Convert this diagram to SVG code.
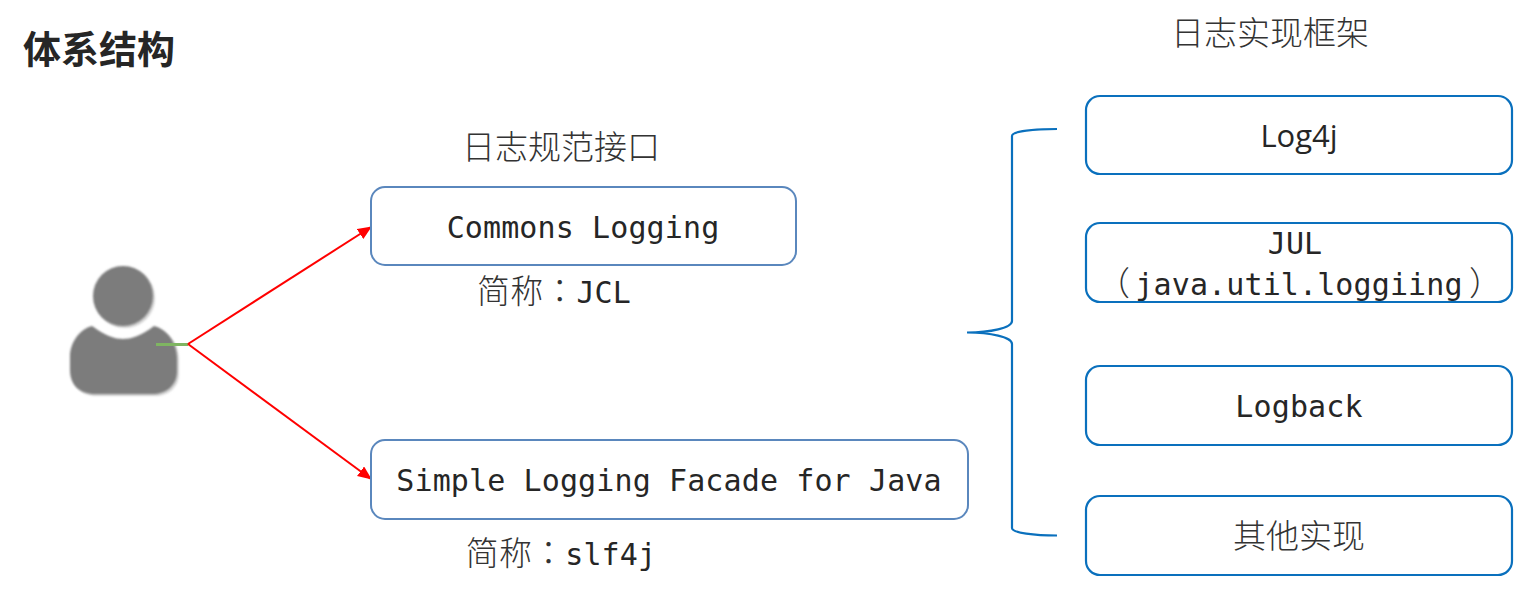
<svg xmlns="http://www.w3.org/2000/svg" width="1517" height="593" viewBox="0 0 1517 593">
<style>
text{text-anchor:middle;fill:#262626}
.m{font-family:"DejaVu Sans Mono","Liberation Mono","Noto Sans CJK SC",monospace;font-size:30px;letter-spacing:.12px}
.c{font-family:"Noto Sans CJK SC","Noto Sans",sans-serif;font-size:33px;font-weight:300;fill:#333}
.p{font-family:"Noto Sans CJK TC",sans-serif;font-size:33px;font-weight:300;fill:#333}
.b1{fill:#fff;stroke:#5a87bd;stroke-width:2}
.b2{fill:#fff;stroke:#0a70bd;stroke-width:2.200}
.red{fill:none;stroke:#f00;stroke-width:2}
</style>
<defs>
<marker id="a" markerUnits="userSpaceOnUse" markerWidth="14" markerHeight="12" refX="13" refY="6" orient="auto"><path d="M0 0L14 6L0 12z" fill="#f00"/></marker>
<filter id="s" x="-10%" y="-10%" width="125%" height="125%"><feGaussianBlur stdDeviation="0.8"/></filter>
<path id="body" d="M92 326C105 336 115 339 123 339C131 339 141 336 154 326C166 329 177 342 177 358L177 371C177 386 166 394 152 394L95 394C80 394 70 385 70 370L70 357C70 342 80 329 92 326Z"/>
</defs>
<rect width="1517" height="593" fill="#fff"/>
<text id="title" x="99" y="63" style="font-family:'Noto Sans CJK SC',sans-serif;font-size:38px;font-weight:700">体系结构</text>
<text id="label-impl" class="c" x="1270" y="45">日志实现框架</text>
<text id="label-api" class="c" x="561" y="159">日志规范接口</text>
<g id="user">
<g filter="url(#s)" fill="#d4d4d4"><circle cx="125" cy="298" r="30"/><use href="#body" x="2" y="2"/></g>
<g filter="url(#s)" fill="#7b7b7b"><circle cx="123" cy="296" r="30"/><use href="#body"/></g>
</g>
<g id="connectors">
<line x1="156" y1="344.500" x2="188" y2="344.500" stroke="#7fb562" stroke-width="3"/>
<line class="red" x1="188" y1="344" x2="371" y2="227" marker-end="url(#a)"/>
<line class="red" x1="188" y1="344" x2="371" y2="479" marker-end="url(#a)"/>
<path d="M1057 129C1035 129 1012 131 1012 136L1012 321C1012 328 990 332.500 967 332.500C990 332.500 1012 337 1012 344L1012 528C1012 533 1035 535.500 1057 535.500" fill="none" stroke="#0a70bd" stroke-width="2.200"/>
</g>
<g id="commons-logging"><rect class="b1" x="371" y="187" width="425" height="78" rx="14"/><text class="m" x="583" y="238">Commons Logging</text></g>
<text id="jcl" x="554" y="303" class="m"><tspan class="c">简称</tspan><tspan class="p">：</tspan>JCL</text>
<g id="slf4j"><rect class="b1" x="371" y="440" width="597" height="79" rx="14"/><text class="m" x="669" y="491">Simple Logging Facade for Java</text></g>
<text id="slf4j-short" x="561" y="565" class="m"><tspan class="c">简称</tspan><tspan class="p">：</tspan>slf4j</text>
<g id="log4j"><rect class="b2" x="1086" y="96" width="426" height="78" rx="14"/><text x="1299" y="147" style="font-family:'Open Sans','Noto Sans',sans-serif;font-size:31px">Log4j</text></g>
<g id="jul"><rect class="b2" x="1086" y="223" width="426" height="79" rx="14"/><text class="m" x="1295" y="254">JUL</text><text class="c" x="1113.500" y="295">（</text><text class="m" x="1299" y="295">java.util.loggiing</text><text class="c" x="1485.500" y="295">）</text></g>
<g id="logback"><rect class="b2" x="1086" y="366" width="426" height="79" rx="14"/><text class="m" x="1299" y="417">Logback</text></g>
<g id="other"><rect class="b2" x="1086" y="496" width="426" height="79" rx="14"/><text class="c" x="1299" y="548">其他实现</text></g>
</svg>
